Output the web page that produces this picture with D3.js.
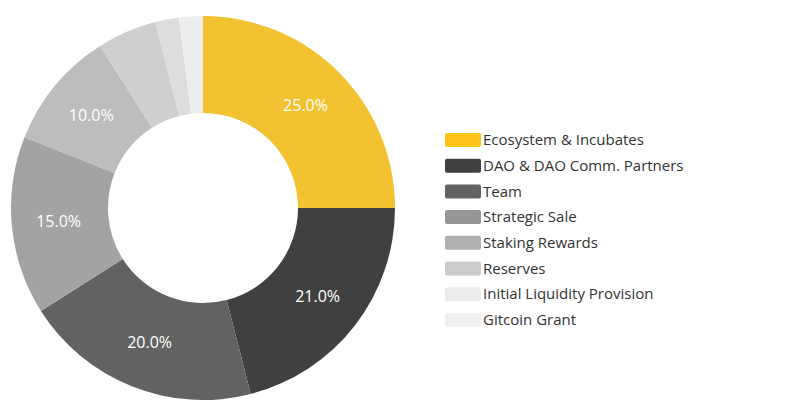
<!DOCTYPE html><html><head><meta charset="utf-8"><script src="https://cdn.jsdelivr.net/npm/d3@7"></script>
<style>body{margin:0;background:#fff}</style></head><body><svg width="800" height="415"></svg><script>
const categories=["Ecosystem & Incubates","DAO & DAO Comm. Partners","Team","Strategic Sale","Staking Rewards","Reserves","Initial Liquidity Provision","Gitcoin Grant"];
const values=[25,21,20,15,10,5,2,2];
const sliceColors=["#f2c230","#404040","#626262","#a3a3a3","#bdbdbd","#cfcfcf","#dddddd","#ededed"];
const legendColors=["#fcc419","#404040","#626262","#969696","#b0b0b0","#cccccc","#ececec","#f0f0f0"];
const svg=d3.select("svg");
const g=svg.append("g").attr("transform","translate(203,208)");
const pie=d3.pie().sort(null).value(d=>d)(values);
const arc=d3.arc().innerRadius(95).outerRadius(192);
const lab=d3.arc().innerRadius(145).outerRadius(145);
g.selectAll("path").data(pie).join("path").attr("d",arc).attr("fill",(d,i)=>sliceColors[i]);
g.selectAll("text").data(pie.filter(d=>d.data>=10)).join("text").attr("transform",d=>`translate(${lab.centroid(d)})`)
 .attr("text-anchor","middle").attr("dy","0.35em").attr("fill","#fff").style("font","16px 'Open Sans'").text(d=>d.data.toFixed(1)+"%");
const lg=svg.append("g");
categories.forEach((c,i)=>{const y=140+i*25.7;
 lg.append("rect").attr("x",445).attr("y",y-7).attr("width",36).attr("height",14).attr("rx",2).attr("fill",legendColors[i]);
 lg.append("text").attr("x",483).attr("y",y).attr("dy","0.35em").attr("fill","#333").style("font","15px 'Open Sans'").text(c);});
</script></body></html>
